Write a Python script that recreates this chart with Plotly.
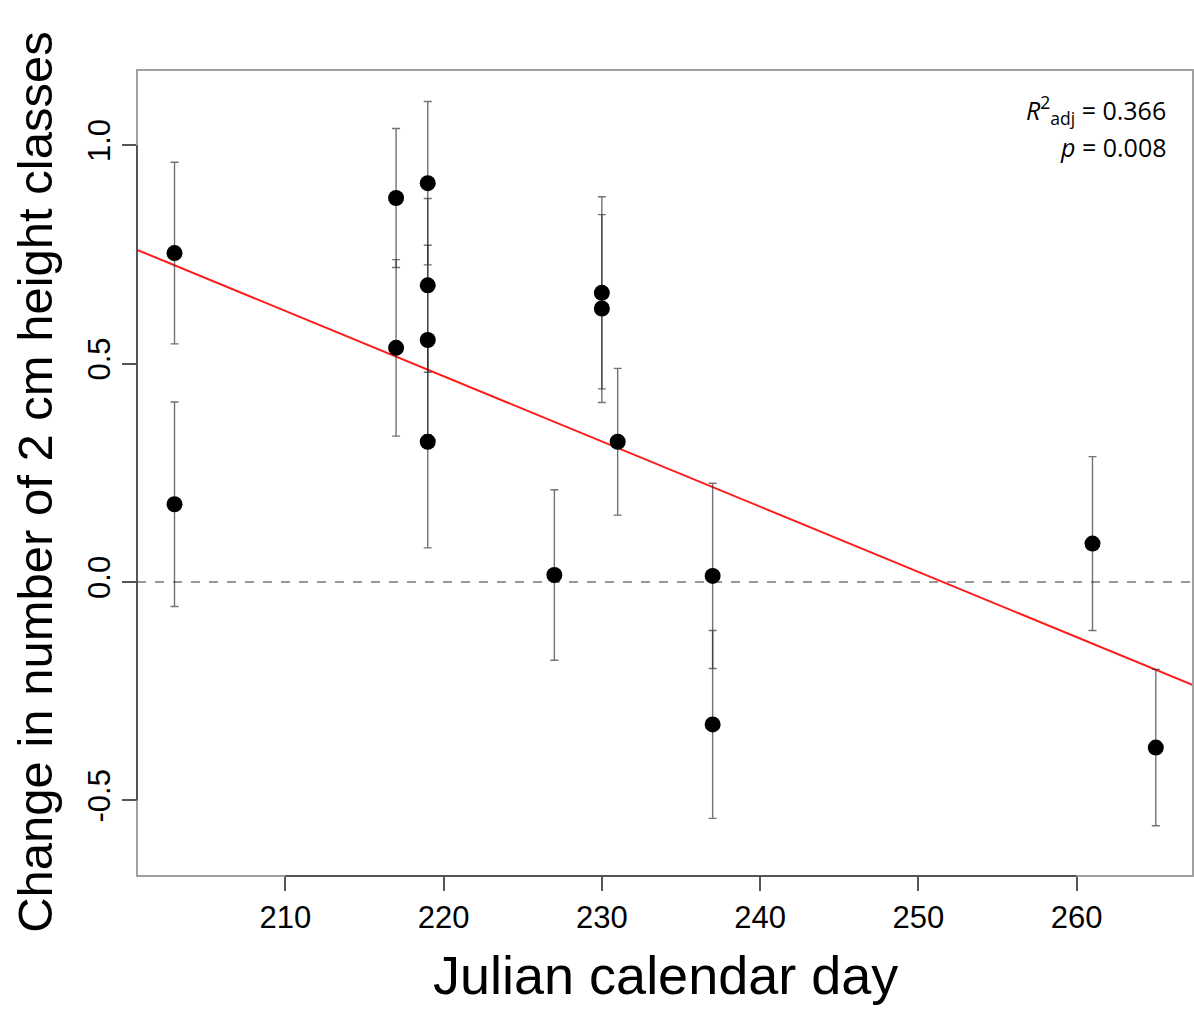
import numpy as np
import plotly.graph_objects as go

# Data
julian_day = [203, 203, 217, 217, 219, 219, 219, 219, 227, 230, 230, 231, 237, 237, 261, 265]
height_change = [0.753, 0.178, 0.879, 0.536, 0.913, 0.679, 0.554, 0.321, 0.016,
                 0.662, 0.626, 0.321, 0.014, -0.326, 0.088, -0.379]
std_error = [0.208, 0.234, 0.159, 0.202, 0.187, 0.199, 0.217, 0.243, 0.195,
             0.220, 0.215, 0.168, 0.212, 0.215, 0.199, 0.179]
x_ticks = [210, 220, 230, 240, 250, 260]
y_ticks = [-0.5, 0.0, 0.5, 1.0]
x_range = [200.63, 267.35]
y_range = [-0.673, 1.172]
stats_text = ["<i>R</i><sup>2</sup><sub>adj</sub> = 0.366", "<i>p</i> = 0.008"]

slope, intercept = np.polyfit(julian_day, height_change, 1)
fit_x = np.array(x_range)
fit_y = intercept + slope * fit_x

fig = go.Figure()

fig.add_trace(go.Scatter(
    x=fit_x, y=fit_y, mode="lines",
    line=dict(color="#ff1a1a", width=2),
    hoverinfo="skip", showlegend=False,
))

fig.add_trace(go.Scatter(
    x=julian_day, y=height_change, mode="markers",
    marker=dict(color="black", size=16),
    error_y=dict(type="data", array=std_error, symmetric=True,
                 color="rgba(40,40,40,0.65)", thickness=1.4, width=4),
    showlegend=False,
))

font_main = "Liberation Sans, Arial, sans-serif"

# zero reference line
fig.add_shape(type="line", xref="paper", yref="y", x0=0, x1=1, y0=0, y1=0,
              line=dict(color="#777777", width=1.5, dash="dash"), layer="below")
# plot box
fig.add_shape(type="rect", xref="paper", yref="paper", x0=0, x1=1, y0=0, y1=1,
              line=dict(color="#a0a0a0", width=2))
# axis segments between extreme ticks (base R style)
fig.add_shape(type="line", xref="x", yref="paper", x0=x_ticks[0], x1=x_ticks[-1], y0=0, y1=0,
              line=dict(color="#555555", width=2))
fig.add_shape(type="line", xref="paper", yref="y", x0=0, x1=0, y0=y_ticks[0], y1=y_ticks[-1],
              line=dict(color="#555555", width=2))

fig.update_xaxes(
    range=x_range, tickvals=x_ticks, ticks="outside", ticklen=14, tickwidth=1.5,
    tickcolor="#555555", showgrid=False, zeroline=False, showline=False,
    tickfont=dict(family=font_main, size=31, color="black"),
)
fig.update_yaxes(
    range=y_range, tickvals=y_ticks, ticktext=["-0.5", "0.0", "0.5", "1.0"],
    ticks="outside", ticklen=14, tickwidth=1.5, tickangle=-90,
    tickcolor="#555555", showgrid=False, zeroline=False, showline=False,
    tickfont=dict(family=font_main, size=31, color="black"),
)

fig.add_annotation(text="Julian calendar day", xref="paper", yref="paper",
                   x=0.5, y=-0.1228, xanchor="center", yanchor="middle",
                   showarrow=False, font=dict(family=font_main, size=54, color="black"))
fig.add_annotation(text="Change in number of 2 cm height classes", xref="paper", yref="paper",
                   x=-0.0966, y=0.489, xanchor="center", yanchor="middle", textangle=-90,
                   showarrow=False, font=dict(family=font_main, size=49, color="black"))

fig.add_annotation(text=stats_text[0], xref="paper", yref="paper",
                   x=(1168 - 137) / 1056, y=(876 - 110) / 806, xanchor="right", yanchor="middle",
                   showarrow=False, font=dict(family="Open Sans, sans-serif", size=25, color="black"))
fig.add_annotation(text=stats_text[1], xref="paper", yref="paper",
                   x=(1168 - 137) / 1056, y=(876 - 147) / 806, xanchor="right", yanchor="middle",
                   showarrow=False, font=dict(family="Open Sans, sans-serif", size=25, color="black"))

fig.update_layout(
    width=1194, height=1011,
    margin=dict(l=137, r=1, t=70, b=135),
    plot_bgcolor="white", paper_bgcolor="white",
)

fig.write_html("out.html")
